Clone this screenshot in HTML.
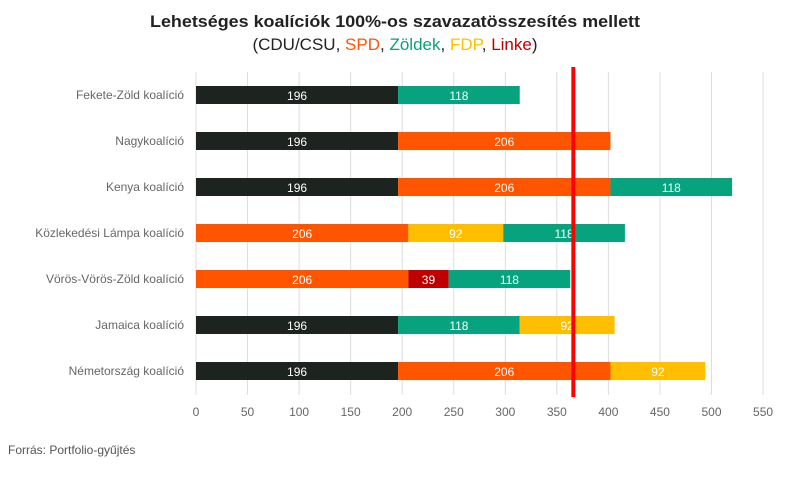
<!DOCTYPE html>
<html><head><meta charset="utf-8"><style>
body{margin:0;background:#fff;width:791px;height:491px;overflow:hidden;font-family:"Liberation Sans",sans-serif}
</style></head><body>
<svg id="c" width="791" height="491">
<text x="395" y="27" text-anchor="middle" font-size="17" font-weight="bold" fill="#222" textLength="490" lengthAdjust="spacingAndGlyphs">Lehetséges koalíciók 100%-os szavazatösszesítés mellett</text>
<text x="395" y="50" text-anchor="middle" font-size="17" fill="#222">(CDU/CSU, <tspan fill="#ff5500">SPD</tspan>, <tspan fill="#0aa07d">Zöldek</tspan>, <tspan fill="#ffc000">FDP</tspan>, <tspan fill="#c00000">Linke</tspan>)</text>
<g id="grid"></g><g id="bars"></g>
<text x="8" y="454" font-size="12" fill="#555">Forrás:  Portfolio-gyűjtés</text>
</svg>
<script>
const categories=["Fekete-Zöld koalíció","Nagykoalíció","Kenya koalíció","Közlekedési Lámpa koalíció","Vörös-Vörös-Zöld koalíció","Jamaica koalíció","Németország koalíció"];
const parties=[["CDU","GRUNE"],["CDU","SPD"],["CDU","SPD","GRUNE"],["SPD","FDP","GRUNE"],["SPD","LINKE","GRUNE"],["CDU","GRUNE","FDP"],["CDU","SPD","FDP"]];
const seats=[[196,118],[196,206],[196,206,118],[206,92,118],[206,39,118],[196,118,92],[196,206,92]];
const ticks=[0,50,100,150,200,250,300,350,400,450,500,550];
const majority=366;
const colors={CDU:"#1d2420",SPD:"#ff5500",GRUNE:"#06a37e",FDP:"#ffbf00",LINKE:"#c00000"};
const ns="http://www.w3.org/2000/svg";
const x=v=>196+v*1.031;
const y=i=>95+i*46;
const g=document.getElementById('grid'),b=document.getElementById('bars');
function mk(p,t,a){const e=document.createElementNS(ns,t);for(const k in a)e.setAttribute(k,a[k]);p.appendChild(e);return e;}
ticks.forEach(t=>{
 const l=mk(g,'line',{x1:x(t),x2:x(t),y1:72,y2:395,stroke:'#ddd','stroke-width':1});
 
 
 const tx=mk(g,'text',{x:x(t),y:416,'text-anchor':'middle','font-size':12,fill:'#666'});tx.textContent=t;
 
 
});
categories.forEach((c,i)=>{
 const lb=mk(b,'text',{x:184,y:y(i)+4,'text-anchor':'end','font-size':12,fill:'#666'});lb.textContent=c;
 
 
 let acc=0;
 seats[i].forEach((v,j)=>{
  const r=mk(b,'rect',{x:x(acc),y:y(i)-9,width:x(acc+v)-x(acc),height:18,fill:colors[parties[i][j]]});
  
  
  const t=mk(b,'text',{x:(x(acc)+x(acc+v))/2,y:y(i)+5,'text-anchor':'middle','font-size':12,fill:'#fff'});t.textContent=v;
  
  
  acc+=v;
 });
});
const m=mk(b,'line',{x1:x(majority),x2:x(majority),y1:67,y2:397,stroke:'#ff0000','stroke-width':4});


</script>
</body></html>
